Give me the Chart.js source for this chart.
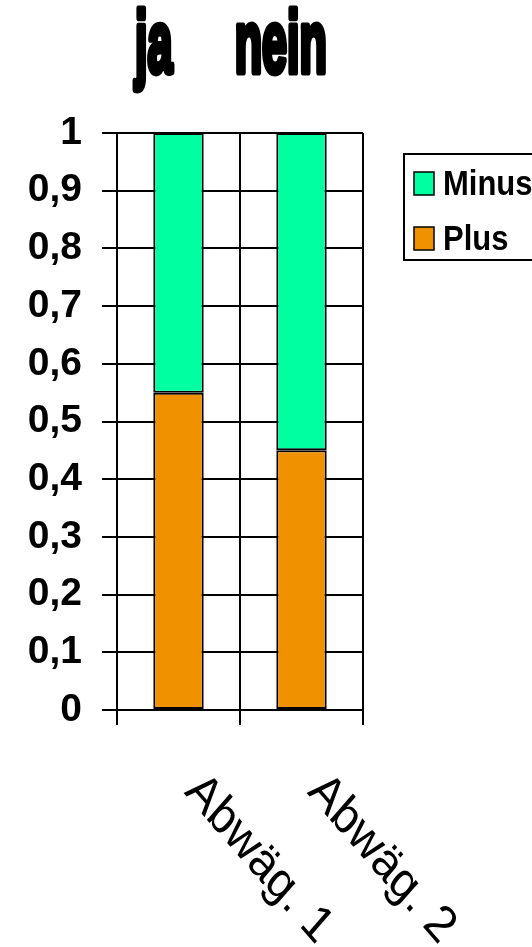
<!DOCTYPE html>
<html>
<head>
<meta charset="utf-8">
<script src="https://cdn.jsdelivr.net/npm/chart.js@4"></script>
<style>
  html, body { margin: 0; padding: 0; background: #fff; overflow: hidden; }
</style>
</head>
<body>
<canvas id="grafico" width="532" height="947"></canvas>
<script>
var categorias = ['Abwäg. 1', 'Abwäg. 2'];
var plus = [0.55, 0.45];
var minus = [0.45, 0.55];
var titulo = 'ja     nein';

// stretch factor of the original picture (it is a bit taller than wide)
var SY = 1.15;

var extras = {
  id: 'extras',
  afterDraw: function (chart) {
    var ctx = chart.ctx;
    var xs = chart.scales.x;
    var area = chart.chartArea;

    // title, condensed and heavy
    ctx.save();
    ctx.translate(135, 72);
    ctx.scale(0.59, SY);
    ctx.font = 'bold 76px "Liberation Sans", Arial';
    ctx.fillStyle = '#000';
    ctx.strokeStyle = '#000';
    ctx.lineWidth = 6;
    ctx.lineJoin = 'round';
    ctx.textBaseline = 'alphabetic';
    ctx.strokeText(titulo, 0, 0);
    ctx.fillText(titulo, 0, 0);
    ctx.restore();

    // category labels, turned clockwise
    chart.data.labels.forEach(function (lab, i) {
      var x = xs.getPixelForValue(i) + 5;
      var y = area.bottom + 83;
      ctx.save();
      ctx.translate(x, y);
      ctx.scale(1, SY);
      ctx.rotate(Math.PI / 4);
      ctx.font = '45px "Liberation Sans", Arial';
      ctx.fillStyle = '#000';
      ctx.textAlign = 'left';
      ctx.textBaseline = 'alphabetic';
      ctx.fillText(lab, 0, 0);
      ctx.restore();
    });

    // legend with frame (reversed order like the original)
    var lx = 404, ly = 154;
    ctx.save();
    ctx.lineWidth = 2;
    ctx.strokeStyle = '#000';
    ctx.fillStyle = '#fff';
    ctx.fillRect(lx, ly, 200, 106);
    ctx.strokeRect(lx, ly, 200, 106);
    var sets = chart.data.datasets.slice().reverse();
    sets.forEach(function (ds, k) {
      var cy = ly + 30 + k * 55;
      ctx.fillStyle = ds.backgroundColor;
      ctx.fillRect(414, cy - 12, 20, 23);
      ctx.lineWidth = 1.5;
      ctx.strokeRect(414, cy - 12, 20, 23);
      ctx.save();
      ctx.translate(443, cy);
      ctx.scale(1, SY);
      ctx.font = 'bold 31px "Liberation Sans", Arial';
      ctx.fillStyle = '#000';
      ctx.textBaseline = 'middle';
      ctx.fillText(ds.label, 0, 1);
      ctx.restore();
    });
    ctx.restore();
  }
};

var ctx = document.getElementById('grafico').getContext('2d');
var miGrafico = new Chart(ctx, {
  type: 'bar',
  data: {
    labels: categorias,
    datasets: [{
      label: 'Plus',
      data: plus,
      backgroundColor: 'rgb(240, 146, 0)',
      borderColor: '#000',
      borderWidth: 2,
      borderSkipped: false,
      barPercentage: 0.41,
      categoryPercentage: 1
    }, {
      label: 'Minus',
      data: minus,
      backgroundColor: 'rgb(0, 255, 160)',
      borderColor: '#000',
      borderWidth: 2,
      borderSkipped: false,
      barPercentage: 0.41,
      categoryPercentage: 1
    }]
  },
  options: {
    responsive: false,
    animation: false,
    devicePixelRatio: 1,
    layout: { padding: { top: 133, right: 169, left: 0, bottom: 0 } },
    plugins: {
      legend: { display: false },
      title: { display: false },
      tooltip: { enabled: false }
    },
    scales: {
      x: {
        stacked: true,
        grid: { color: '#000', lineWidth: 2, offset: true, tickLength: 15 },
        border: { color: '#000', width: 2 },
        ticks: { display: false },
        afterFit: function (s) { s.height = 947 - 710; }
      },
      y: {
        stacked: true,
        min: 0,
        max: 1,
        grid: { color: '#000', lineWidth: 2, tickLength: 15 },
        border: { color: '#000', width: 2 },
        ticks: {
          stepSize: 0.1,
          padding: 20,
          color: '#000',
          font: { family: '"Liberation Sans", Arial', weight: 'bold', size: 39 },
          callback: function (v) {
            return String(Math.round(v * 10) / 10).replace('.', ',');
          }
        },
        afterFit: function (s) { s.width = 117; }
      }
    }
  },
  plugins: [extras]
});
</script>
</body>
</html>
